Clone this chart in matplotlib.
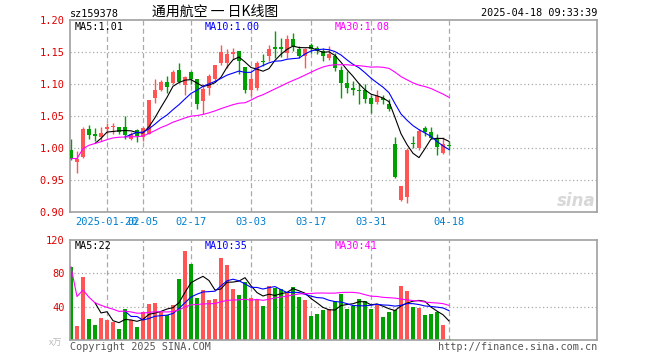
import numpy as np
import pandas as pd
import matplotlib.pyplot as plt

# OHLC per trading day, 2025-01-10 .. 2025-04-18
opens = [0.996, 0.978, 0.985, 1.029, 1.021, 1.017, 1.029, 1.033, 1.032, 1.033,
         1.014, 1.027, 1.017, 1.022, 1.078, 1.091, 1.103, 1.102, 1.121, 1.098,
         1.119, 1.107, 1.073, 1.094, 1.107, 1.133, 1.133, 1.146, 1.151, 1.127,
         1.090, 1.093, 1.136, 1.143, 1.157, 1.158, 1.148, 1.171, 1.154, 1.143,
         1.161, 1.156, 1.151, 1.141, 1.143, 1.122, 1.101, 1.094, 1.091, 1.091,
         1.078, 1.071, 1.078, 1.068, 1.006, 0.918, 0.923, 1.007, 1.000, 1.031,
         1.025, 1.013, 0.992, 1.004]
closes = [0.983, 0.983, 1.029, 1.020, 1.018, 1.023, 1.032, 1.034, 1.025, 1.020,
          1.021, 1.018, 1.031, 1.074, 1.091, 1.103, 1.095, 1.118, 1.103, 1.110,
          1.107, 1.068, 1.092, 1.113, 1.129, 1.150, 1.146, 1.150, 1.135, 1.090,
          1.107, 1.133, 1.134, 1.155, 1.155, 1.155, 1.171, 1.160, 1.143, 1.154,
          1.155, 1.152, 1.143, 1.147, 1.125, 1.102, 1.094, 1.091, 1.089, 1.077,
          1.068, 1.081, 1.074, 1.060, 0.954, 0.940, 0.996, 1.006, 1.026, 1.025,
          1.015, 1.001, 1.005, 1.003]
highs = [1.013, 0.995, 1.033, 1.035, 1.031, 1.033, 1.039, 1.038, 1.033, 1.049,
         1.025, 1.030, 1.033, 1.074, 1.107, 1.106, 1.112, 1.122, 1.133, 1.112,
         1.120, 1.107, 1.099, 1.115, 1.130, 1.161, 1.154, 1.156, 1.151, 1.127,
         1.117, 1.135, 1.146, 1.161, 1.182, 1.172, 1.177, 1.180, 1.159, 1.156,
         1.164, 1.159, 1.156, 1.159, 1.148, 1.128, 1.120, 1.104, 1.102, 1.099,
         1.083, 1.090, 1.083, 1.076, 1.017, 0.940, 1.000, 1.018, 1.029, 1.034,
         1.033, 1.021, 1.016, 1.010]
lows = [0.981, 0.960, 0.984, 1.014, 1.010, 1.010, 1.021, 1.021, 1.021, 1.013,
        1.012, 1.009, 1.010, 1.021, 1.070, 1.089, 1.086, 1.099, 1.102, 1.083,
        1.099, 1.061, 1.052, 1.083, 1.104, 1.130, 1.125, 1.139, 1.115, 1.085,
        1.081, 1.090, 1.128, 1.135, 1.141, 1.142, 1.141, 1.151, 1.141, 1.125,
        1.148, 1.146, 1.135, 1.138, 1.120, 1.078, 1.086, 1.083, 1.068, 1.070,
        1.054, 1.069, 1.068, 1.057, 0.953, 0.917, 0.914, 1.000, 0.997, 1.018,
        1.013, 0.989, 0.990, 0.997]
# volume in 万
volumes = [87.6, 16.8, 75.6, 25.2, 18.0, 26.8, 24.0, 22.0, 13.2, 37.2,
           24.0, 15.6, 34.0, 43.2, 44.8, 34.0, 30.0, 42.0, 73.2, 106.8,
           91.6, 50.4, 60.0, 48.0, 49.6, 98.4, 90.4, 61.2, 54.0, 70.0,
           50.4, 48.8, 40.8, 64.8, 62.4, 60.8, 56.8, 63.6, 51.6, 48.0,
           28.8, 31.2, 36.0, 37.2, 46.8, 55.6, 37.2, 40.8, 49.2, 46.8,
           37.2, 42.0, 27.6, 34.0, 36.0, 64.8, 58.8, 39.6, 38.4, 30.0,
           31.2, 34.0, 18.0, 1.2]

tick_idx = [6, 12, 20, 30, 40, 50, 63]
tick_labels = ['2025-01-20', '02-05', '02-17', '03-03', '03-17', '03-31', '04-18']
price_ticks = [0.90, 0.95, 1.00, 1.05, 1.10, 1.15, 1.20]
vol_ticks = [40, 80, 120]

RED = '#FF5555'
GREEN = '#00A000'
GRID = '#AAAAAA'
MONO = 'DejaVu Sans Mono'
CJK = ['Noto Sans CJK SC', 'DejaVu Sans']

o = np.array(opens); c = np.array(closes)
h = np.array(highs); l = np.array(lows)
v = np.array(volumes)
x = np.arange(len(c))
up = c >= o
cols = np.where(up, RED, GREEN)

cs = pd.Series(c)
ma5 = cs.rolling(5).mean()
ma10 = cs.rolling(10).mean()
ma30 = cs.rolling(30, min_periods=1).mean()
vs = pd.Series(v)
vma5 = vs.rolling(5).mean()
vma10 = vs.rolling(10).mean()
vma30 = vs.rolling(30, min_periods=1).mean()

W, H = 660, 360
fig = plt.figure(figsize=(6.6, 3.6), dpi=100)
fig.patch.set_facecolor('white')


def px(xp, yp):
    return xp / W, 1 - yp / H


ax1 = fig.add_axes([70 / W, 1 - 211.5 / H, 527 / W, 191.5 / H])
ax2 = fig.add_axes([70 / W, 1 - 340 / H, 527 / W, 100 / H])

xmin, xmax = -1 / 6, (597 - 71) / 6

for ax in (ax1, ax2):
    ax.set_xlim(xmin, xmax)
    for s in ax.spines.values():
        s.set_color('#A0A0A0')
        s.set_linewidth(1.2)
    for t in tick_idx:
        ax.axvline(t, color=GRID, lw=0.9, ls=(0, (4, 2.5)), zorder=0)
    ax.tick_params(length=0)

# candles
body_lo = np.minimum(o, c)
body_h = np.maximum(np.abs(c - o), 0.0012)
ax1.vlines(x, l, h, colors=cols, lw=1.0, zorder=2)
ax1.bar(x, body_h, bottom=body_lo, width=0.8, color=cols, zorder=3, linewidth=0)
ax1.plot(x, ma5, color='black', lw=0.8, zorder=4)
ax1.plot(x, ma10, color='#0000FF', lw=0.8, zorder=4)
ax1.plot(x, ma30, color='#FF00FF', lw=0.8, zorder=4)
ax1.set_ylim(0.90, 1.20)
ax1.set_yticks(price_ticks)
ax1.set_yticklabels([f'{p:.2f}' for p in price_ticks], color='#E00000',
                    family=MONO, fontsize=7.5)
for p in price_ticks[1:-1]:
    ax1.axhline(p, color=GRID, lw=0.9, ls=(0, (1, 2)), zorder=0)
ax1.set_xticks(tick_idx)
ax1.set_xticklabels(tick_labels, color='#0080D0', family=MONO, fontsize=7.5)
ax1.tick_params(axis='x', pad=4)
ax1.tick_params(axis='y', pad=4)

# volume
ax2.bar(x, v, width=0.8, color=cols, linewidth=0, zorder=2)
ax2.plot(x, vma5, color='black', lw=0.8, zorder=4)
ax2.plot(x, vma10, color='#0000FF', lw=0.8, zorder=4)
ax2.plot(x, vma30, color='#FF00FF', lw=0.8, zorder=4)
ax2.set_ylim(0, 120)
ax2.set_yticks(vol_ticks)
ax2.set_yticklabels([str(t) for t in vol_ticks], color='#E00000',
                    family=MONO, fontsize=7.5)
for t in vol_ticks[:-1]:
    ax2.axhline(t, color=GRID, lw=0.9, ls=(0, (1, 2)), zorder=0)
ax2.set_xticks([])
ax2.tick_params(axis='y', pad=4)

# header
fig.text(*px(70, 14), 'sz159378', family=MONO, fontsize=7.3, va='center')
fig.text(*px(152, 12), '通用航空 一 日K线图', family=CJK, fontsize=10, va='center')
fig.text(*px(597, 13), '2025-04-18 09:33:39', family=MONO, fontsize=7.3,
         va='center', ha='right')

# MA legends
fig.text(*px(75, 27), f'MA5:{ma5.iloc[-1]:.2f}', family=MONO, fontsize=7.3,
         va='center', color='black')
fig.text(*px(205, 27), f'MA10:{ma10.iloc[-1]:.2f}', family=MONO, fontsize=7.3,
         va='center', color='#0000FF')
fig.text(*px(335, 27), f'MA30:{ma30.iloc[-1]:.2f}', family=MONO, fontsize=7.3,
         va='center', color='#FF00FF')
fig.text(*px(75, 246), f'MA5:{int(vma5.iloc[-1])}', family=MONO, fontsize=7.3,
         va='center', color='black')
fig.text(*px(205, 246), f'MA10:{int(vma10.iloc[-1])}', family=MONO, fontsize=7.3,
         va='center', color='#0000FF')
fig.text(*px(335, 246), f'MA30:{int(vma30.iloc[-1])}', family=MONO, fontsize=7.3,
         va='center', color='#FF00FF')

# footer
fig.text(*px(62, 343), 'x万', family=CJK, fontsize=6.5, va='center', ha='right',
         color='#BBBBBB')
fig.text(*px(70, 347), 'Copyright 2025 SINA.COM', family=MONO, fontsize=7.3,
         va='center', color='#555555')
fig.text(*px(597, 347), 'http://finance.sina.com.cn', family=MONO, fontsize=7.3,
         va='center', ha='right', color='#555555')

# watermark
fig.text(*px(596, 201), 'sina', fontsize=12, fontweight='bold', style='italic',
         color='#D8D8D8', ha='right', va='center', family='DejaVu Sans')

fig.savefig('out.png', dpi=100)
